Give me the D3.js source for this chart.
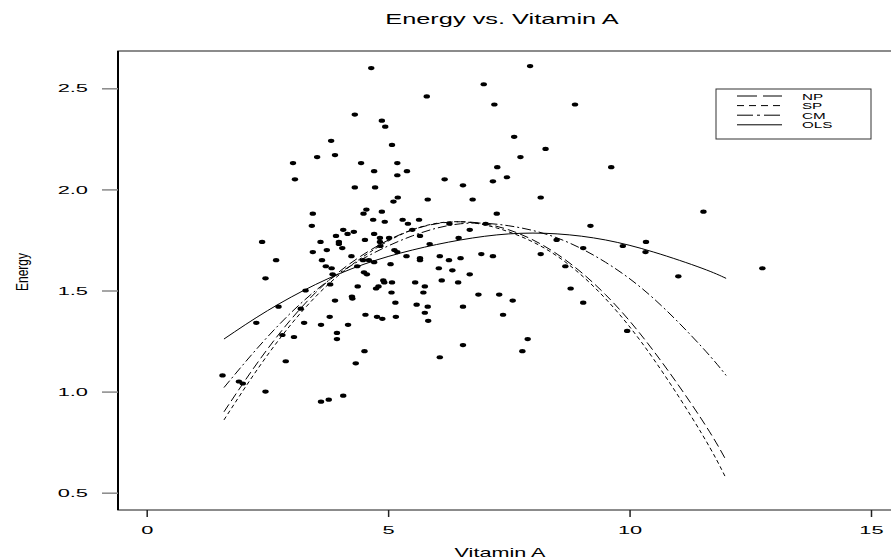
<!DOCTYPE html>
<html>
<head>
<meta charset="utf-8">
<script src="https://cdn.jsdelivr.net/npm/d3@7"></script>
<style>
  body { margin: 0; background: #fff; }
  svg { display: block; font-family: "Liberation Sans", Arial, sans-serif; }
</style>
</head>
<body>
<svg width="891" height="560"></svg>
<script>
// scatter points (Vitamin A, Energy)
var vitA = [7.94,6.98,5.80,7.20,8.87,7.61,8.26,7.74,7.26,9.62,7.46,6.17,6.55,7.17,5.39,5.82,6.75,8.16,7.25,5.30,
  5.41,5.64,6.27,6.69,7.02,9.19,5.50,5.66,6.46,8.49,5.86,10.34,9.86,9.04,10.33,5.38,5.66,6.07,6.50,6.93,
  7.17,8.16,4.65,4.31,4.87,4.94,3.82,5.08,3.53,3.90,3.03,4.44,5.19,4.71,5.19,3.07,4.31,4.73,5.20,5.11,
  3.44,4.49,4.55,4.87,4.69,4.93,3.42,4.07,4.16,4.29,3.92,4.52,4.71,4.83,5.02,2.39,3.60,3.98,3.98,4.83,
  4.84,3.44,3.73,4.05,4.24,5.13,5.19,2.68,3.63,3.71,3.83,4.48,4.60,4.71,4.36,5.05,2.46,3.85,4.50,4.56,
  4.90,4.92,5.08,3.80,4.37,4.80,4.75,3.29,5.07,4.25,4.26,3.90,5.15,2.73,3.19,4.53,4.77,4.88,5.16,3.79,
  2.27,3.26,3.61,4.17,3.94,2.81,3.05,3.94,4.51,4.33,2.88,1.57,1.91,1.99,2.46,4.07,3.77,3.61,5.66,6.26,
  6.05,6.33,6.69,8.67,5.56,5.76,6.11,6.45,11.01,5.73,6.87,7.30,7.58,8.78,9.04,5.59,5.82,6.55,5.76,7.38,
  5.83,9.95,7.89,6.55,7.78,6.07,11.53,12.75];
var energy = [2.61,2.52,2.46,2.42,2.42,2.26,2.20,2.16,2.11,2.11,2.06,2.05,2.02,2.04,2.09,1.95,1.95,1.96,1.88,1.85,
  1.83,1.85,1.83,1.80,1.83,1.82,1.80,1.77,1.76,1.75,1.73,1.74,1.72,1.71,1.69,1.67,1.66,1.67,1.66,1.68,
  1.67,1.68,2.60,2.37,2.34,2.31,2.24,2.22,2.16,2.17,2.13,2.13,2.13,2.09,2.07,2.05,2.01,2.01,1.96,1.94,
  1.88,1.88,1.90,1.89,1.85,1.84,1.82,1.80,1.78,1.79,1.77,1.75,1.78,1.76,1.76,1.74,1.74,1.74,1.73,1.74,
  1.72,1.69,1.70,1.71,1.67,1.70,1.69,1.65,1.65,1.62,1.61,1.65,1.65,1.64,1.62,1.63,1.56,1.58,1.59,1.58,
  1.55,1.54,1.54,1.53,1.52,1.52,1.51,1.50,1.49,1.47,1.46,1.45,1.44,1.42,1.41,1.38,1.37,1.36,1.37,1.37,
  1.34,1.34,1.33,1.33,1.29,1.28,1.27,1.26,1.20,1.14,1.15,1.08,1.05,1.04,1.00,0.98,0.96,0.95,1.65,1.65,
  1.61,1.60,1.58,1.62,1.54,1.52,1.55,1.54,1.57,1.49,1.48,1.48,1.45,1.51,1.44,1.43,1.42,1.42,1.39,1.38,
  1.35,1.30,1.26,1.23,1.20,1.17,1.89,1.61];

// fitted curves
var fitX  = [1.6, 2.5, 3.5, 4.5, 5.5, 6.5, 7.5, 8.5, 9.5, 10.5, 11.5, 12.0];
var npY   = [0.90, 1.21, 1.49, 1.68, 1.80, 1.84, 1.80, 1.68, 1.48, 1.20, 0.86, 0.66];
var spY   = [0.86, 1.18, 1.47, 1.67, 1.80, 1.84, 1.79, 1.67, 1.46, 1.16, 0.79, 0.57];
var cmY   = [1.02, 1.27, 1.50, 1.66, 1.77, 1.83, 1.82, 1.76, 1.64, 1.46, 1.22, 1.08];
var olsY  = [1.26, 1.40, 1.53, 1.63, 1.70, 1.75, 1.78, 1.78, 1.75, 1.69, 1.61, 1.56];

var seriesNames = ["NP", "SP", "CM", "OLS"];
var seriesDash = ["9,4", "4,3", "9,3,2,3", null];
var legendDash = ["20,6", "7,5", "16,4,3,4", null];

var xTicks = [0, 5, 10, 15];
var yTicks = [0.5, 1.0, 1.5, 2.0, 2.5];

var svg = d3.select("svg");
var frameL = 118, frameT = 51, frameB = 510, frameR = 905;

var xScale = d3.scaleLinear().domain([0, 15]).range([146.7, 871]);
var yScale = d3.scaleLinear().domain([0.5, 2.5]).range([492.7, 88.3]);

// stretch text horizontally like the reference
function stretch(sel, sx) {
  sel.each(function () {
    var x = +this.getAttribute("x") || 0, y = +this.getAttribute("y") || 0;
    this.setAttribute("x", 0);
    this.setAttribute("y", 0);
    this.setAttribute("transform", "translate(" + x + "," + y + ") scale(" + sx + ",1)");
  });
}

svg.append("text")
  .attr("x", 502).attr("y", 24)
  .attr("text-anchor", "middle")
  .style("font-size", "14.5px")
  .text("Energy vs. Vitamin A")
  .call(stretch, 1.75);

// frame
svg.append("rect")
  .attr("x", frameL).attr("y", frameT)
  .attr("width", frameR - frameL).attr("height", frameB - frameT)
  .attr("fill", "none").attr("stroke", "#666").attr("stroke-width", 1.5);
svg.append("line")
  .attr("x1", frameL).attr("x2", frameL).attr("y1", frameT).attr("y2", frameB)
  .attr("stroke", "#000").attr("stroke-width", 2);

var xAxis = d3.axisBottom(xScale).tickValues(xTicks).tickSize(7).tickPadding(9)
  .tickFormat(d3.format("d"));
var xg = svg.append("g").attr("transform", "translate(0," + frameB + ")").call(xAxis);
xg.select(".domain").remove();
xg.selectAll("line").attr("stroke", "#222").attr("stroke-width", 1.5);
xg.selectAll("text").style("font-size", "11.5px").attr("fill", "#000").call(stretch, 1.9);

var yAxis = d3.axisLeft(yScale).tickValues(yTicks).tickSize(16).tickPadding(14)
  .tickFormat(d3.format(".1f"));
var yg = svg.append("g").attr("transform", "translate(" + frameL + ",0)").call(yAxis);
yg.select(".domain").remove();
yg.selectAll("line").attr("stroke", "#888").attr("stroke-width", 1.5);
yg.selectAll("text").style("font-size", "11.5px").attr("fill", "#000").call(stretch, 1.9);

svg.append("text")
  .attr("x", 28).attr("y", 272)
  .attr("text-anchor", "middle")
  .style("font-size", "12px")
  .attr("transform", "translate(28,272) scale(1.4,1) rotate(-90) translate(-28,-272)")
  .text("Energy");

svg.append("text")
  .attr("x", 500).attr("y", 557)
  .attr("text-anchor", "middle")
  .style("font-size", "12px")
  .text("Vitamin A")
  .call(stretch, 1.8);

// points
svg.append("g").selectAll("ellipse")
  .data(d3.range(vitA.length))
  .enter()
  .append("ellipse")
  .attr("cx", function (i) { return xScale(vitA[i]); })
  .attr("cy", function (i) { return yScale(energy[i]); })
  .attr("rx", 3.2)
  .attr("ry", 2.1)
  .attr("fill", "#000");

// curves
var curves = [npY, spY, cmY, olsY];
var line = d3.line()
  .x(function (d) { return xScale(d[0]); })
  .y(function (d) { return yScale(d[1]); })
  .curve(d3.curveNatural);

curves.forEach(function (ys, k) {
  svg.append("path")
    .datum(fitX.map(function (x, i) { return [x, ys[i]]; }))
    .attr("d", line)
    .attr("fill", "none")
    .attr("stroke", "#000")
    .attr("stroke-width", 1)
    .attr("stroke-dasharray", seriesDash[k]);
});

// legend
var lg = svg.append("g");
lg.append("rect")
  .attr("x", 716).attr("y", 89).attr("width", 155).attr("height", 50)
  .attr("fill", "#fff").attr("stroke", "#333").attr("stroke-width", 1);
seriesNames.forEach(function (name, k) {
  var y = 96 + k * 9.6;
  lg.append("line")
    .attr("x1", 737).attr("x2", 782).attr("y1", y).attr("y2", y)
    .attr("stroke", "#000").attr("stroke-width", 1)
    .attr("stroke-dasharray", legendDash[k]);
  lg.append("text")
    .attr("x", 802).attr("y", y + 3.5)
    .style("font-size", "9.5px")
    .text(name)
    .call(stretch, 1.6);
});
</script>
</body>
</html>
